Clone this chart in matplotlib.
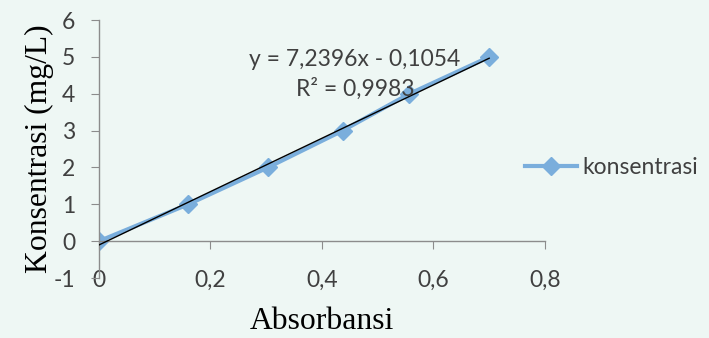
import numpy as np
import matplotlib
matplotlib.use("Agg")
import matplotlib.pyplot as plt

absorbansi = [0.0, 0.16, 0.303, 0.437, 0.557, 0.70]
konsentrasi = [0, 1, 2, 3, 4, 5]
x_ticks = [0, 0.2, 0.4, 0.6, 0.8]
x_ticklabels = ["0", "0,2", "0,4", "0,6", "0,8"]
y_ticks = [-1, 0, 1, 2, 3, 4, 5, 6]
y_ticklabels = ["-1", "0", "1", "2", "3", "4", "5", "6"]
eq_text = "y = 7,2396x - 0,1054"
r2_text = "R² = 0,9983"
series_name = "konsentrasi"

bg = "#EEF7F4"
blue = "#7AAEDC"
axis_grey = "#8C8C8C"
text_col = "#404040"
tick_font = "Lato"
title_font = "Liberation Serif"
fs = 16.5

fig = plt.figure(figsize=(7.09, 3.38), dpi=100, facecolor=bg)
ax = fig.add_axes([0.1396, 0.1775, 0.629, 0.763], facecolor=bg)

line, = ax.plot(absorbansi, konsentrasi, color=blue, lw=3.0, marker="D",
                ms=9, mfc=blue, mec=blue, zorder=2, label=series_name)
coef = np.polyfit(absorbansi, konsentrasi, 1)
xs = np.array([min(absorbansi), max(absorbansi)])
ax.plot(xs, np.polyval(coef, xs), color="#000000", lw=1.0, zorder=3)

ax.set_xlim(0, 0.8)
ax.set_ylim(-1, 6)
ax.set_xticks(x_ticks)
ax.set_xticklabels(x_ticklabels)
ax.set_yticks(y_ticks)
ax.set_yticklabels(y_ticklabels)

for s in ["top", "right"]:
    ax.spines[s].set_visible(False)
ax.spines["bottom"].set_position(("data", 0))
for s in ["bottom", "left"]:
    ax.spines[s].set_color(axis_grey)
    ax.spines[s].set_linewidth(1.0)

ax.tick_params(axis="x", direction="out", length=6, color=axis_grey,
               pad=14.5, labelsize=fs, labelcolor=text_col)
ax.tick_params(axis="y", direction="out", length=6, color=axis_grey,
               pad=11, labelsize=fs, labelcolor=text_col)
for lab in ax.get_xticklabels() + ax.get_yticklabels():
    lab.set_fontfamily(tick_font)

ax.set_xlabel("Absorbansi", fontfamily=title_font, fontsize=22.8, color="#000000",
              labelpad=12)
ax.set_ylabel("Konsentrasi (mg/L)", fontfamily=title_font, fontsize=22.8,
              color="#000000", labelpad=0)

ax.text(0.574, 0.847, eq_text, transform=ax.transAxes, ha="center", va="center",
        fontsize=fs, fontfamily=tick_font, color=text_col)
ax.text(0.574, 0.733, r2_text, transform=ax.transAxes, ha="center", va="center",
        fontsize=fs, fontfamily=tick_font, color=text_col)

leg = fig.legend(handles=[line], loc="center left", bbox_to_anchor=(0.74, 0.505),
                 frameon=False, prop={"family": tick_font, "size": fs},
                 handlelength=2.3, handletextpad=0.22, borderaxespad=0,
                 borderpad=0)
for t in leg.get_texts():
    t.set_color(text_col)

fig.savefig("out.png", dpi=100, facecolor=bg)
